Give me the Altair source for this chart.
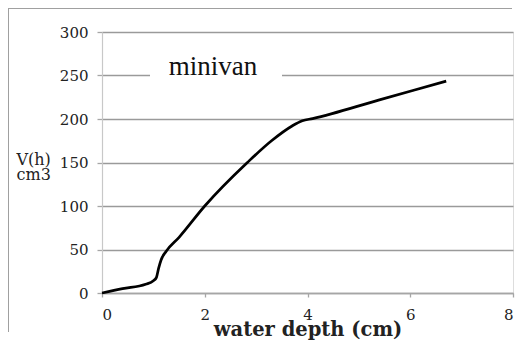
import altair as alt
import pandas as pd

# data
depth = [0, 0.4, 0.85, 1.0, 1.06, 1.1, 1.15, 1.25, 1.5, 2.0, 2.83, 3.3, 3.7, 3.9, 4.1, 5.4, 6.7]
volume = [0, 5, 10, 14, 18, 28, 38, 48, 64, 100, 150, 175, 192, 198, 200.5, 222, 243.5]
x_ticks = [0, 2, 4, 6, 8]
y_ticks = [0, 50, 100, 150, 200, 250, 300]
chart_title = "minivan"
x_title = "water depth (cm)"
y_title = ["V(h)", "cm3"]

df = pd.DataFrame({"depth": depth, "volume": volume})

W, H = 411, 261
SERIF = "DejaVu Serif"

line = alt.Chart(df).mark_line(color="black", strokeWidth=2.7, interpolate="monotone").encode(
    x=alt.X("depth:Q", scale=alt.Scale(domain=[0, 8], nice=False),
            axis=alt.Axis(values=x_ticks, title=x_title, grid=False, domainColor="#a6a6a6",
                          domainWidth=1.3, tickColor="#a6a6a6", tickSize=4, tickWidth=1.3,
                          labelFont=SERIF, labelFontSize=15, labelColor="#222",
                          labelPadding=10, labelBaseline="top",
                          titleFont=SERIF, titleFontSize=19.5, titleFontWeight="bold",
                          titleColor="#222", titleBaseline="alphabetic", titleY=42)),
    y=alt.Y("volume:Q", scale=alt.Scale(domain=[0, 300], nice=False),
            axis=alt.Axis(values=y_ticks, title=y_title, grid=True, gridColor="#9a9a9a",
                          gridWidth=1.4, domainColor="#c8c8c8", domainWidth=1.2,
                          tickColor="#a6a6a6", tickSize=5, tickWidth=1.3,
                          labelFont=SERIF, labelFontSize=15, labelColor="#222", labelPadding=9,
                          titleFont=SERIF, titleFontSize=16, titleFontWeight="normal",
                          titleColor="#222", titleAngle=0, titleAlign="left",
                          titleBaseline="alphabetic", titleX=-86, titleY=132,
                          titleLineHeight=15)),
)

one = alt.Data(values=[{"t": chart_title}])

title_bg = alt.Chart(one).mark_rect(fill="white").encode(
    x=alt.value(48), x2=alt.value(180), y=alt.value(25), y2=alt.value(55)
)
title_txt = alt.Chart(one).mark_text(
    font="Liberation Serif", fontSize=27, color="#111", align="center", baseline="alphabetic"
).encode(x=alt.value(111), y=alt.value(43), text="t:N")

frame_left = alt.Chart(one).mark_rect(fill="#a0a0a0", strokeWidth=0).encode(
    x=alt.value(-94), x2=alt.value(-93), y=alt.value(-24), y2=alt.value(300)
)
frame_top = alt.Chart(one).mark_rect(fill="#a0a0a0", strokeWidth=0).encode(
    x=alt.value(-94), x2=alt.value(410), y=alt.value(-24), y2=alt.value(-23)
)

chart = alt.layer(frame_left, frame_top, line, title_bg, title_txt).properties(
    width=W, height=H,
    autosize=alt.AutoSizeParams(type="none"),
    padding={"left": 94, "top": 24, "right": 9, "bottom": 49},
).configure_view(stroke=None).configure(background="white")

chart.save("out.html", embed_options={"renderer": "svg", "actions": False})
